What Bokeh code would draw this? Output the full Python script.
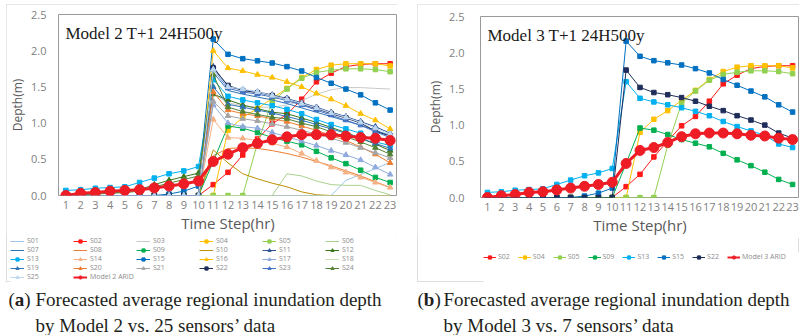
from bokeh.plotting import figure
from bokeh.models import (Legend, LegendItem, Label, Range1d, FixedTicker,
                          NumeralTickFormatter, Spacer)
from bokeh.layouts import row, column
from bokeh.embed import file_html
from bokeh.resources import INLINE

# ---------------------------------------------------------------- data
steps = list(range(1, 24))
depth_ticks = [0.0, 0.5, 1.0, 1.5, 2.0, 2.5]

s01 = [0, 0, 0, 0, 0, 0, 0, 0, 0, 0, 0, 0, 0, 0, 0, 0, 0, 0, 0, 0.21, 0.29, 0.37, 0.46]
s02 = [0, 0, 0, 0, 0, 0, 0, 0, 0, 0, 0.15, 0.32, 0.56, 0.78, 0.99, 1.12, 1.33, 1.57, 1.69, 1.78, 1.81, 1.82, 1.82]
s03 = [0, 0, 0, 0, 0, 0, 0, 0, 0, 0, 1.40, 1.28, 1.24, 1.22, 1.22, 1.25, 1.31, 1.40, 1.46, 1.49, 1.49, 1.48, 1.47]
s04 = [0, 0, 0, 0, 0, 0, 0, 0, 0, 0, 0.00, 0.90, 1.08, 1.20, 1.34, 1.48, 1.63, 1.74, 1.80, 1.82, 1.82, 1.82, 1.79]
s05 = [0, 0, 0, 0, 0, 0, 0, 0, 0, 0, 0, 0, 0, 0.72, 1.30, 1.47, 1.62, 1.70, 1.73, 1.75, 1.75, 1.74, 1.71]
s06 = [0, 0, 0, 0, 0, 0, 0, 0, 0, 0, 0, 0, 0, 0, 0, 0.30, 0.27, 0.20, 0.15, 0.14, 0.14, 0.07, 0.01]
s07 = [0, 0, 0, 0, 0, 0, 0, 0, 0, 0, 1.70, 1.45, 1.40, 1.36, 1.32, 1.27, 1.21, 1.15, 1.09, 1.03, 0.97, 0.90, 0.83]
s08 = [0, 0, 0, 0, 0, 0, 0, 0, 0, 0, 0.55, 0.65, 0.66, 0.65, 0.62, 0.58, 0.53, 0.47, 0.41, 0.34, 0.27, 0.19, 0.11]
s09 = [0, 0, 0, 0, 0, 0, 0, 0, 0, 0, 0.47, 0.96, 0.93, 0.87, 0.80, 0.75, 0.70, 0.61, 0.52, 0.44, 0.35, 0.25, 0.18]
s10 = [0, 0, 0, 0, 0, 0, 0, 0, 0, 0, 0.63, 0.45, 0.30, 0.23, 0.17, 0.12, 0.05, 0.01, 0, 0, 0, 0, 0]
s11 = [0, 0, 0, 0, 0, 0, 0, 0, 0, 0, 1.78, 1.50, 1.46, 1.43, 1.39, 1.34, 1.28, 1.22, 1.15, 1.09, 1.02, 0.95, 0.86]
s12 = [0.01, 0.02, 0.03, 0.04, 0.05, 0.08, 0.15, 0.21, 0.26, 0.31, 1.40, 1.32, 1.25, 1.20, 1.15, 1.13, 1.07, 1.01, 0.94, 0.87, 0.79, 0.71, 0.62]
s13 = [0.07, 0.08, 0.10, 0.11, 0.12, 0.18, 0.24, 0.30, 0.34, 0.40, 1.60, 1.37, 1.32, 1.28, 1.24, 1.19, 1.13, 1.05, 0.98, 0.92, 0.86, 0.74, 0.69]
s14 = [0, 0, 0, 0, 0, 0, 0, 0, 0, 0, 1.05, 0.80, 0.79, 0.76, 0.72, 0.67, 0.58, 0.48, 0.39, 0.32, 0.25, 0.18, 0.11]
s15 = [0, 0, 0, 0, 0, 0, 0, 0.02, 0.06, 0.13, 2.16, 1.95, 1.89, 1.86, 1.83, 1.78, 1.72, 1.63, 1.55, 1.47, 1.39, 1.28, 1.18]
s16 = [0, 0, 0, 0, 0, 0, 0, 0, 0, 0, 2.00, 1.76, 1.72, 1.67, 1.63, 1.57, 1.50, 1.41, 1.33, 1.24, 1.13, 1.04, 0.92]
s17 = [0, 0, 0, 0, 0, 0, 0, 0, 0, 0, 1.25, 1.00, 0.95, 0.93, 0.87, 0.81, 0.75, 0.69, 0.62, 0.56, 0.49, 0.39, 0.29]
s18 = [0, 0, 0, 0, 0, 0, 0, 0, 0, 0, 0, 0, 0, 0, 0, 0, 0, 0, 0, 0, 0, 0, 0]
s19 = [0, 0, 0, 0, 0, 0, 0, 0, 0, 0, 1.50, 1.26, 1.22, 1.18, 1.14, 1.09, 1.04, 0.98, 0.92, 0.86, 0.79, 0.72, 0.65]
s20 = [0, 0, 0, 0, 0, 0, 0, 0, 0, 0, 1.43, 1.18, 1.13, 1.10, 1.06, 1.02, 0.96, 0.90, 0.83, 0.76, 0.67, 0.57, 0.45]
s21 = [0, 0, 0, 0, 0, 0, 0, 0, 0, 0, 1.30, 1.10, 1.06, 1.03, 0.99, 0.95, 0.90, 0.85, 0.79, 0.73, 0.66, 0.59, 0.52]
s22 = [0, 0, 0, 0, 0, 0, 0, 0, 0, 0, 1.76, 1.52, 1.45, 1.42, 1.38, 1.33, 1.26, 1.20, 1.13, 1.07, 1.00, 0.89, 0.82]
s23 = [0, 0, 0, 0, 0, 0, 0, 0, 0, 0, 1.74, 1.48, 1.43, 1.40, 1.36, 1.31, 1.25, 1.18, 1.11, 1.04, 0.97, 0.88, 0.80]
s24 = [0.01, 0.01, 0.02, 0.03, 0.04, 0.06, 0.12, 0.17, 0.22, 0.27, 1.67, 1.22, 1.16, 1.12, 1.08, 1.06, 1.00, 0.95, 0.88, 0.81, 0.74, 0.66, 0.57]
s25 = [0, 0, 0, 0, 0, 0, 0, 0, 0, 0, 1.74, 1.50, 1.47, 1.43, 1.38, 1.33, 1.27, 1.21, 1.14, 1.08, 1.01, 0.93, 0.85]

arid_model2 = [0.00, 0.03, 0.04, 0.06, 0.07, 0.08, 0.105, 0.13, 0.16, 0.20, 0.47, 0.57, 0.66, 0.72, 0.77, 0.81, 0.84, 0.84, 0.84, 0.82, 0.80, 0.79, 0.76]
arid_model3 = [0.00, 0.025, 0.04, 0.07, 0.08, 0.105, 0.13, 0.155, 0.18, 0.21, 0.47, 0.65, 0.69, 0.76, 0.84, 0.88, 0.89, 0.89, 0.88, 0.86, 0.85, 0.82, 0.80]

sensor_series = {
    "S01": s01, "S02": s02, "S03": s03, "S04": s04, "S05": s05,
    "S06": s06, "S07": s07, "S08": s08, "S09": s09, "S10": s10,
    "S11": s11, "S12": s12, "S13": s13, "S14": s14, "S15": s15,
    "S16": s16, "S17": s17, "S18": s18, "S19": s19, "S20": s20,
    "S21": s21, "S22": s22, "S23": s23, "S24": s24, "S25": s25,
}
sensors_model2 = list(sensor_series.keys())
sensors_model3 = ["S02", "S04", "S05", "S09", "S13", "S15", "S22"]

# colour and marker for every sensor (None = plain line)
SENSOR_STYLE = {
    "S01": ("#9DC3E6", None), "S02": ("#FF1A1A", "square"),
    "S03": ("#C8C8C8", None), "S04": ("#FFC000", "square"),
    "S05": ("#92D050", "square"), "S06": ("#A9D18E", None),
    "S07": ("#2E75B6", None), "S08": ("#ED7D31", None),
    "S09": ("#00B050", "square"), "S10": ("#BF9000", None),
    "S11": ("#2F5597", "triangle"), "S12": ("#38761D", "triangle"),
    "S13": ("#00B0F0", "square"), "S14": ("#F4B183", "triangle"),
    "S15": ("#0070C0", "square"), "S16": ("#FFC000", "triangle"),
    "S17": ("#8FAADC", "triangle"), "S18": ("#C5E0B4", None),
    "S19": ("#2E75B6", "triangle"), "S20": ("#ED7D31", "triangle"),
    "S21": ("#A5A5A5", "triangle"), "S22": ("#1F2D5A", "square"),
    "S23": ("#4472C4", "triangle"), "S24": ("#548235", "triangle"),
    "S25": ("#BDD7EE", "triangle"),
}
ARID_COLOR = "#EE1C25"

SANS = "Open Sans"
SERIF = "Liberation Serif"


def draw_series(p, sid, ys, size_scale=1.0):
    color, marker = SENSOR_STYLE[sid]
    rs = [p.line(steps, ys, line_color=color, line_width=1)]
    if marker is not None:
        base = 4.5 if marker == "square" else 5.5
        rs.append(p.scatter(steps, ys, marker=marker, size=base * size_scale,
                            fill_color=color, line_color=color))
    return rs


def draw_arid(p, ys, width, size):
    return [p.line(steps, ys, line_color=ARID_COLOR, line_width=width),
            p.scatter(steps, ys, marker="circle", size=size,
                      fill_color=ARID_COLOR, line_color=ARID_COLOR)]


def make_chart(width, height, border_left, border_top, frame_h,
               label_standoff, title, sensors, arid):
    p = figure(width=width, height=height,
               x_range=Range1d(0.5, 23.5), y_range=Range1d(0, 2.5),
               min_border_left=border_left, min_border_right=0,
               min_border_top=border_top,
               min_border_bottom=height - border_top - frame_h,
               output_backend="svg", toolbar_location=None)
    p.background_fill_color = "white"
    p.border_fill_color = "white"
    p.outline_line_color = "#9a9a9a"
    p.outline_line_width = 1
    p.xgrid.visible = False
    p.ygrid.visible = False

    xa = p.xaxis[0]
    xa.ticker = FixedTicker(ticks=steps)
    xa.axis_label = "Time Step(hr)"
    ya = p.yaxis[0]
    ya.ticker = FixedTicker(ticks=depth_ticks)
    ya.formatter = NumeralTickFormatter(format="0.0")
    ya.axis_label = "Depth(m)"
    for ax in (xa, ya):
        ax.axis_line_color = None
        ax.major_tick_line_color = None
        ax.minor_tick_line_color = None
        ax.major_tick_out = 0
        ax.major_tick_in = 0
        ax.major_label_text_font = SANS
        ax.major_label_text_font_size = "11px"
        ax.major_label_text_color = "#7f7f7f"
        ax.axis_label_text_font = SANS
        ax.axis_label_text_font_style = "normal"
        ax.axis_label_text_color = "#595959"
    xa.major_label_standoff = 5
    xa.axis_label_standoff = 1
    xa.axis_label_text_font_size = "15px"
    ya.major_label_standoff = label_standoff
    ya.axis_label_standoff = 2
    ya.axis_label_text_font_size = "12px"

    for sid in sensors:
        draw_series(p, sid, sensor_series[sid])
    draw_arid(p, arid, 3, 10)

    p.add_layout(Label(x=7, y=frame_h - 19, x_units="screen", y_units="screen",
                       text=title, text_font=SERIF, text_font_size="17px",
                       text_color="#1a1a1a", text_baseline="alphabetic"))
    return p


def make_legend(width, height, sensors, arid, arid_label, **cfg):
    # key strip: the same series are plotted here, but the ranges lie
    # outside the data so that only the legend samples are visible
    lg = figure(width=width, height=height, x_range=Range1d(-20, -19),
                y_range=Range1d(-20, -19), min_border=0,
                x_axis_location=None, y_axis_location=None,
                output_backend="svg", toolbar_location=None)
    lg.outline_line_color = None
    lg.xgrid.visible = False
    lg.ygrid.visible = False
    items = []
    for sid in sensors:
        items.append(LegendItem(label=sid, renderers=draw_series(lg, sid, sensor_series[sid], 0.8)))
    items.append(LegendItem(label=arid_label, renderers=draw_arid(lg, arid, 2, 6)))
    legend = Legend(items=items, location="top_left", orientation="horizontal",
                    padding=0, margin=0, border_line_color=None,
                    background_fill_alpha=0,
                    label_text_font=SANS, label_text_font_size="7px",
                    label_text_color="#8c8c8c", **cfg)
    lg.add_layout(legend)
    return lg


def make_caption(width, tag, tag_x, body_x, line1, line2):
    c = figure(width=width, height=53, x_range=Range1d(0, width),
               y_range=Range1d(0, 53), min_border=0,
               x_axis_location=None, y_axis_location=None,
               output_backend="svg", toolbar_location=None)
    c.outline_line_color = None
    c.xgrid.visible = False
    c.ygrid.visible = False
    common = dict(text_font=SERIF, text_font_size="19px", text_color="#231f20",
                  text_baseline="alphabetic")
    tag_w = 10.6 if tag == "b" else 9.5
    c.add_layout(Label(x=tag_x, y=36, text="(", **common))
    c.add_layout(Label(x=tag_x + 6.3, y=36, text=tag, text_font_style="bold", **common))
    c.add_layout(Label(x=tag_x + 6.3 + tag_w, y=36, text=")", **common))
    c.add_layout(Label(x=body_x, y=36, text=line1, **common))
    c.add_layout(Label(x=body_x, y=10, text=line2, **common))
    return c


AREA_STYLE = {"outline": "1px solid #dedede", "outline-offset": "-1px"}

# left panel: Model 2 with 25 sensors
chart_a = make_chart(391, 232, 51, 10, 181, 12,
                     "Model 2 T+1 24H500y", sensors_model2, arid_model2)
legend_a = make_legend(387, 46, sensors_model2, arid_model2, "Model 2 ARID",
                       ncols=6, spacing=0, glyph_width=14, glyph_height=8,
                       label_height=8, label_standoff=3, label_width=46)
panel_a = column(chart_a, row(Spacer(width=4, height=46), legend_a),
                 styles=AREA_STYLE)

# right panel: Model 3 with 7 sensors
chart_b = make_chart(382, 234, 63, 12, 181, 16,
                     "Model 3 T+1 24H500y", sensors_model3, arid_model3)
legend_b = make_legend(316, 30, sensors_model3, arid_model3, "Model 3 ARID",
                       spacing=8, glyph_width=13, glyph_height=8,
                       label_height=8, label_standoff=2, label_width=10)
panel_b = column(chart_b, Spacer(width=382, height=14),
                 row(Spacer(width=66, height=30), legend_b),
                 styles=AREA_STYLE)

caption_a = make_caption(410, "a", 8, 35,
                         "Forecasted average regional inundation depth",
                         "by Model 2 vs. 25 sensors\u2019 data")
caption_b = make_caption(389, "b", 7, 33,
                         "Forecasted average regional inundation depth",
                         "by Model 3 vs. 7 sensors\u2019 data")

page = column(
    Spacer(width=799, height=4),
    row(Spacer(width=6, height=278), panel_a, Spacer(width=20, height=278), panel_b),
    row(caption_a, caption_b),
)

open("out.html", "w").write(file_html(page, INLINE))
